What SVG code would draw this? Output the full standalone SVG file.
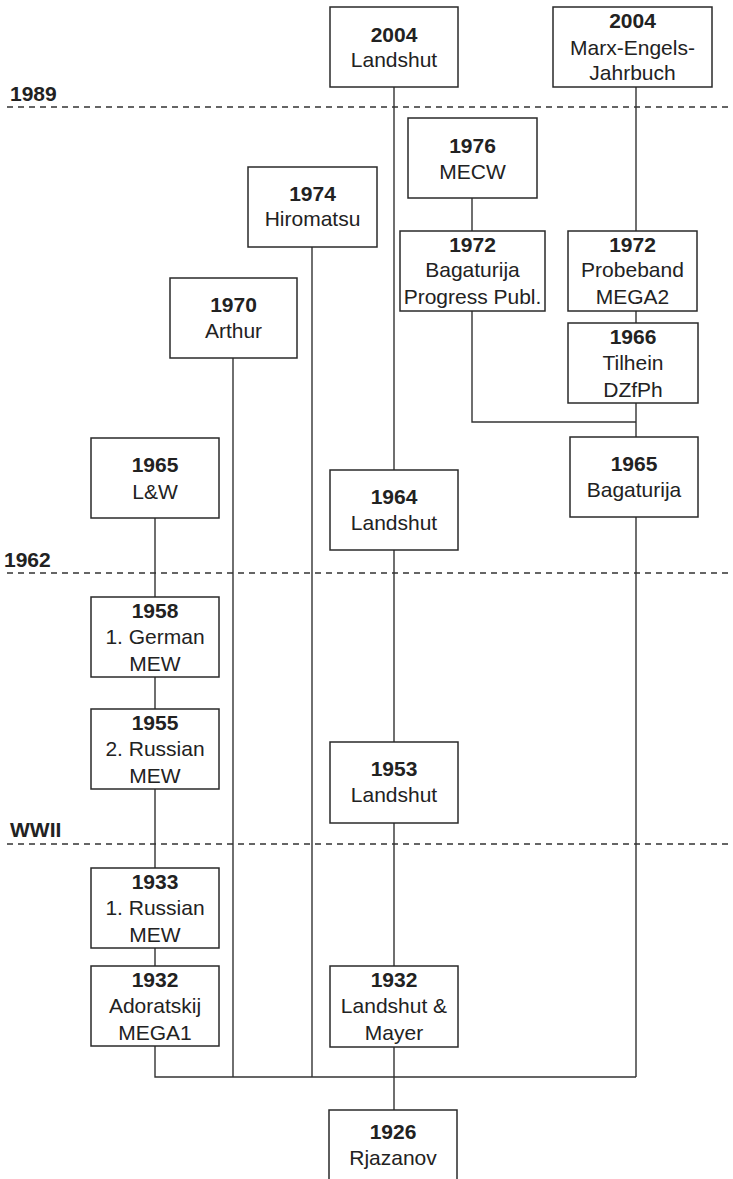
<svg xmlns="http://www.w3.org/2000/svg" width="733" height="1179" viewBox="0 0 733 1179">
<style>
  .box rect { fill: #fff; stroke: #2a2a2a; stroke-width: 1.5; }
  .box text { font-family: "Liberation Sans", Arial, sans-serif; font-size: 21px; fill: #222; text-anchor: middle; }
  .box text.yr { font-weight: bold; }
  .conn path { fill: none; stroke: #333; stroke-width: 1.4; }
  .era line { stroke: #333; stroke-width: 1.3; stroke-dasharray: 6 5; }
  .era text { font-family: "Liberation Sans", Arial, sans-serif; font-size: 21px; font-weight: bold; fill: #222; }
</style>
<rect width="733" height="1179" fill="#fff"/>
<g id="eras" class="era">
  <text x="10" y="101">1989</text>
  <line x1="7" y1="107" x2="733" y2="107"/>
  <text x="4" y="567">1962</text>
  <line x1="7" y1="573" x2="733" y2="573"/>
  <text x="10" y="837">WWII</text>
  <line x1="7" y1="844" x2="733" y2="844"/>
</g>
<g id="connectors" class="conn">
  <path d="M394 87V470M394 550V742M394 823V966M394 1047V1110"/>
  <path d="M636 87V231M636 311V323M636 403V437M636 517V1077"/>
  <path d="M472 198V231M472 311V422H636"/>
  <path d="M312 247V1077"/>
  <path d="M233 358V1077"/>
  <path d="M155 518V597M155 677V709M155 789V868M155 948V966M155 1046V1077H636"/>
</g>
<g id="n2004L" class="box"><rect x="330" y="7" width="128" height="80"/><text class="yr" x="394" y="42">2004</text><text x="394" y="67">Landshut</text></g>
<g id="n2004M" class="box"><rect x="553" y="7" width="159" height="80"/><text class="yr" x="632.5" y="28">2004</text><text x="632.5" y="55">Marx-Engels-</text><text x="632.5" y="80">Jahrbuch</text></g>
<g id="n1976" class="box"><rect x="408" y="118" width="129" height="80"/><text class="yr" x="472.5" y="153">1976</text><text x="472.5" y="179">MECW</text></g>
<g id="n1974" class="box"><rect x="248" y="167" width="129" height="80"/><text class="yr" x="312.5" y="201">1974</text><text x="312.5" y="226">Hiromatsu</text></g>
<g id="n1972B" class="box"><rect x="400" y="231" width="145" height="80"/><text class="yr" x="472.5" y="252">1972</text><text x="472.5" y="277">Bagaturija</text><text x="472.5" y="304">Progress Publ.</text></g>
<g id="n1972P" class="box"><rect x="568" y="231" width="129" height="80"/><text class="yr" x="632.5" y="252">1972</text><text x="632.5" y="277">Probeband</text><text x="632.5" y="304">MEGA2</text></g>
<g id="n1970" class="box"><rect x="170" y="278" width="127" height="80"/><text class="yr" x="233.5" y="312">1970</text><text x="233.5" y="338">Arthur</text></g>
<g id="n1966" class="box"><rect x="568" y="323" width="130" height="80"/><text class="yr" x="633" y="344">1966</text><text x="633" y="370">Tilhein</text><text x="633" y="397">DZfPh</text></g>
<g id="n1965B" class="box"><rect x="570" y="437" width="128" height="80"/><text class="yr" x="634" y="471">1965</text><text x="634" y="497">Bagaturija</text></g>
<g id="n1965LW" class="box"><rect x="91" y="438" width="128" height="80"/><text class="yr" x="155" y="472">1965</text><text x="155" y="499">L&amp;W</text></g>
<g id="n1964" class="box"><rect x="330" y="470" width="128" height="80"/><text class="yr" x="394" y="504">1964</text><text x="394" y="530">Landshut</text></g>
<g id="n1958" class="box"><rect x="91" y="597" width="128" height="80"/><text class="yr" x="155" y="618">1958</text><text x="155" y="644">1. German</text><text x="155" y="671">MEW</text></g>
<g id="n1955" class="box"><rect x="91" y="709" width="128" height="80"/><text class="yr" x="155" y="730">1955</text><text x="155" y="756">2. Russian</text><text x="155" y="783">MEW</text></g>
<g id="n1953" class="box"><rect x="330" y="742" width="128" height="81"/><text class="yr" x="394" y="776">1953</text><text x="394" y="802">Landshut</text></g>
<g id="n1933" class="box"><rect x="91" y="868" width="128" height="80"/><text class="yr" x="155" y="889">1933</text><text x="155" y="915">1. Russian</text><text x="155" y="942">MEW</text></g>
<g id="n1932A" class="box"><rect x="91" y="966" width="128" height="80"/><text class="yr" x="155" y="987">1932</text><text x="155" y="1013">Adoratskij</text><text x="155" y="1040">MEGA1</text></g>
<g id="n1932L" class="box"><rect x="330" y="966" width="128" height="81"/><text class="yr" x="394" y="987">1932</text><text x="394" y="1013">Landshut &amp;</text><text x="394" y="1040">Mayer</text></g>
<g id="n1926" class="box"><rect x="329" y="1110" width="128" height="80"/><text class="yr" x="393" y="1139">1926</text><text x="393" y="1165">Rjazanov</text></g>
</svg>
